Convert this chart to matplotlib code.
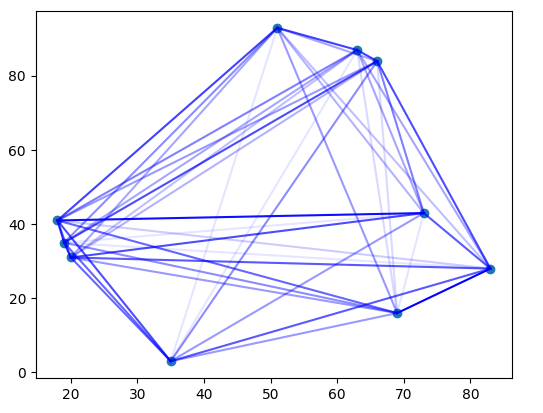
import matplotlib
matplotlib.use("Agg")
import matplotlib.pyplot as plt

# city coordinates
xs = [51, 63, 66, 18, 19, 20, 73, 83, 69, 35]
ys = [93, 87, 84, 41, 35, 31, 43, 28, 16, 3]

# edges (i, j) and their relative strength (used as alpha)
edge_i = [0, 0, 0, 0, 0, 0, 0, 0, 0,
          1, 1, 1, 1, 1, 1, 1, 1,
          2, 2, 2, 2, 2, 2, 2,
          3, 3, 3, 3, 3, 3,
          4, 4, 4, 4, 4,
          5, 5, 5, 5,
          6, 6, 6,
          7, 7,
          8]
edge_j = [1, 2, 3, 4, 5, 6, 7, 8, 9,
          2, 3, 4, 5, 6, 7, 8, 9,
          3, 4, 5, 6, 7, 8, 9,
          4, 5, 6, 7, 8, 9,
          5, 6, 7, 8, 9,
          6, 7, 8, 9,
          7, 8, 9,
          8, 9,
          9]
strength = [0.75, 0.35, 0.75, 0.45, 0.35, 0.3, 0.25, 0.4, 0.1,
            0.75, 0.5, 0.35, 0.25, 0.35, 0.35, 0.15, 0.1,
            0.4, 0.7, 0.3, 0.5, 0.7, 0.15, 0.45,
            0.8, 0.5, 0.95, 0.2, 0.6, 0.7,
            0.8, 0.1, 0.1, 0.45, 0.6,
            0.7, 0.65, 0.4, 0.6,
            0.65, 0.1, 0.4,
            1.0, 0.65,
            0.4]


def main():
    fig = plt.figure(figsize=(5.43, 4.13), dpi=100)
    ax = fig.add_axes([0.066, 0.085, 0.877, 0.888])

    ax.scatter(xs, ys)
    for i, j, a in zip(edge_i, edge_j, strength):
        ax.plot([xs[i], xs[j]], [ys[i], ys[j]], color="blue", alpha=a, linewidth=1.5)

    fig.savefig("out.png", dpi=100)
    plt.close(fig)


if __name__ == "__main__":
    main()
